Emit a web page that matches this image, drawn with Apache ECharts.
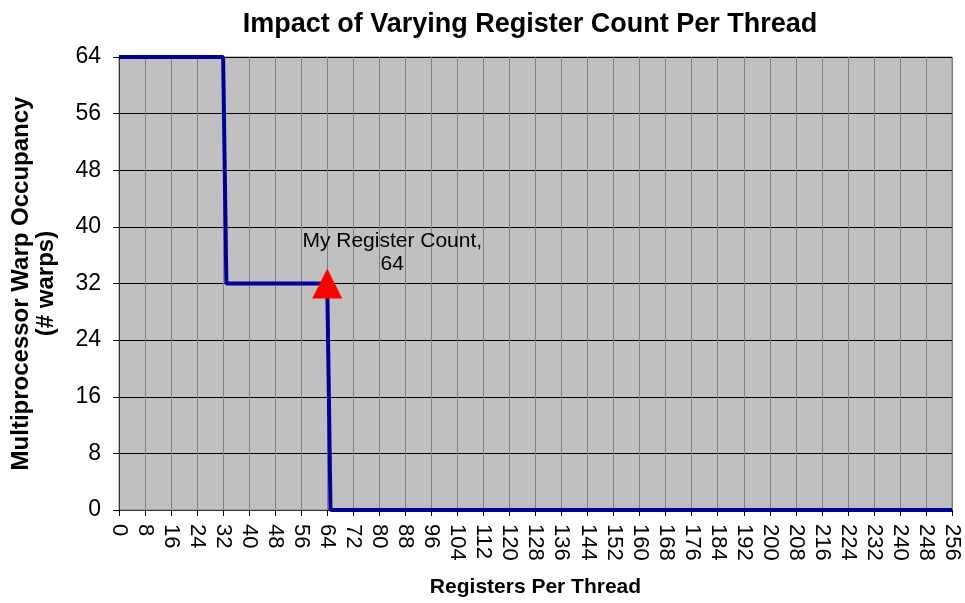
<!DOCTYPE html>
<html>
<head>
<meta charset="utf-8">
<title>Impact of Varying Register Count Per Thread</title>
<script src="https://cdn.jsdelivr.net/npm/echarts@6/dist/echarts.min.js"></script>
<style>
  html, body { margin: 0; padding: 0; background: #fff; }
  #chart { width: 965px; height: 603px; }
</style>
</head>
<body>
<div id="chart"></div>
<script>
// step points of the occupancy curve
const registers = [0, 32, 33, 64, 65, 256]
const warps = [64, 64, 32, 32, 0, 0]
// my kernel
const myRegisters = 64
const myWarps = 32
const myLabel = 'My Register Count,\n64'

const chart = echarts.init(document.getElementById('chart'))

const lineData = registers.map((r, i) => [r, warps[i]])

const option = {
  animation: false,
  textStyle: { fontFamily: 'Liberation Sans, Arial, sans-serif' },
  title: {
    text: 'Impact of Varying Register Count Per Thread',
    left: 525,
    textAlign: 'center',
    top: 6,
    textStyle: { fontSize: 27, fontWeight: 'bold', color: '#000' }
  },
  grid: {
    left: 119,
    right: 13,
    top: 57,
    bottom: 91,
    show: true,
    backgroundColor: '#c0c0c0',
    borderColor: '#808080',
    borderWidth: 1
  },
  xAxis: {
    type: 'value',
    min: 0,
    max: 256,
    interval: 8,
    name: 'Registers Per Thread',
    nameLocation: 'middle',
    nameGap: 67,
    nameTextStyle: { fontSize: 21, fontWeight: 'bold', color: '#000' },
    axisLine: { show: true, onZero: false, lineStyle: { color: '#333', width: 1 } },
    axisTick: { show: true, length: 6, lineStyle: { color: '#000' } },
    axisLabel: { rotate: -90, fontSize: 22, color: '#000', margin: 14 },
    splitLine: { show: true, lineStyle: { color: '#808080', width: 1 } }
  },
  yAxis: {
    type: 'value',
    min: 0,
    max: 64,
    interval: 8,
    name: 'Multiprocessor Warp Occupancy\n(# warps)',
    nameLocation: 'middle',
    nameRotate: 90,
    nameGap: 60,
    nameTextStyle: { fontSize: 24, fontWeight: 'bold', color: '#000', lineHeight: 25 },
    axisLine: { show: true, lineStyle: { color: '#333', width: 1 } },
    axisTick: { show: true, length: 6, lineStyle: { color: '#000' } },
    axisLabel: { fontSize: 23, color: '#000', margin: 18 },
    splitLine: { show: true, lineStyle: { color: '#000', width: 1 } }
  },
  series: [
    {
      type: 'line',
      data: lineData,
      showSymbol: false,
      lineStyle: { color: '#000099', width: 4 },
      z: 2
    },
    {
      type: 'scatter',
      data: [[myRegisters, myWarps]],
      symbol: 'triangle',
      symbolSize: [30, 30],
      itemStyle: { color: '#ff0000', opacity: 1 },
      label: {
        show: true,
        position: 'inside',
        offset: [65, -31],
        formatter: myLabel,
        color: '#000',
        opacity: 1,
        fontSize: 21,
        lineHeight: 23,
        align: 'center'
      },
      z: 3
    }
  ]
}

chart.setOption(option)
</script>
</body>
</html>
